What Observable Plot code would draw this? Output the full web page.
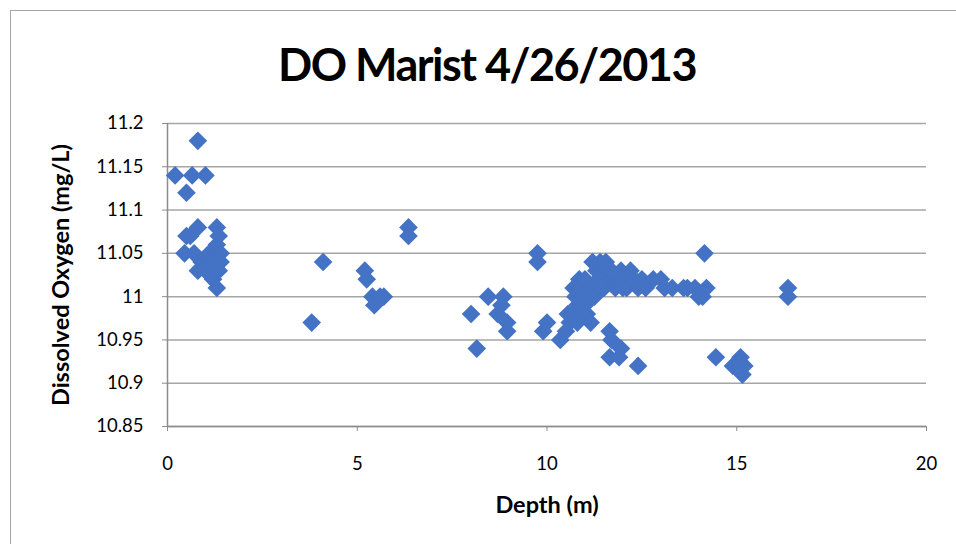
<!DOCTYPE html>
<html>
<head>
<meta charset="utf-8">
<script src="https://cdn.jsdelivr.net/npm/d3@7"></script>
<script src="https://cdn.jsdelivr.net/npm/@observablehq/plot@0.6"></script>
<style>
  html, body { margin: 0; padding: 0; background: #fff; width: 956px; height: 544px; overflow: hidden; }
  #frame { position: absolute; left: 10px; top: 10px; width: 1000px; height: 600px; border-left: 1.5px solid #A6A6A6; border-top: 1.5px solid #A6A6A6; }
  #title { position: absolute; left: 0; top: 0; width: 974px; height: 100px; line-height: 128px; text-align: center; font-family: Lato, "Open Sans", sans-serif; font-weight: 700; font-size: 45px; letter-spacing: -1.5px; color: #000; }
  #chart { position: absolute; left: 0; top: 100px; }
</style>
</head>
<body>
<div id="frame"></div>
<div id="title">DO Marist 4/26/2013</div>
<div id="chart"></div>
<script>
const title = "DO Marist 4/26/2013";
const xLabel = "Depth (m)";
const yLabel = "Dissolved Oxygen (mg/L)";
const xTicks = [0, 5, 10, 15, 20];
const yTicks = [10.85, 10.9, 10.95, 11, 11.05, 11.1, 11.15, 11.2];
const yTickLabels = ["10.85", "10.9", "10.95", "11", "11.05", "11.1", "11.15", "11.2"];

const depth = [
  0.2, 0.8, 0.5, 0.65, 1.0,
  0.5, 0.6, 0.8, 0.45, 0.7, 0.9, 0.8, 1.0, 1.1, 1.2, 1.2, 1.3, 1.3, 1.35, 1.3, 1.3, 1.4, 1.35, 1.4, 1.2, 1.0,
  3.8, 4.1, 5.2, 5.25, 5.4, 5.45, 5.6, 5.7, 6.35, 6.35,
  8.0, 8.15, 8.45, 8.85, 8.8, 8.7, 8.95, 8.95, 9.75, 9.75,
  9.9, 10.0, 10.35, 10.5, 10.6, 10.55, 10.7, 10.8, 10.75, 10.7, 10.85, 10.9, 10.95, 11.0, 11.05, 11.15, 10.8, 10.9, 11.0, 11.1, 11.2, 11.25,
  11.2, 11.3, 11.4, 11.45, 11.5, 11.55, 11.6, 11.7, 11.8, 11.9, 11.95, 12.0, 12.1, 12.2, 12.3, 12.4, 12.5, 12.6, 12.8, 13.0, 13.1, 13.3, 13.6, 13.7, 13.9, 14.0, 14.1, 14.2, 14.15,
  11.5, 11.7, 12.0, 11.35, 11.45,
  11.65, 11.7, 11.95, 11.65, 11.9, 12.4,
  16.35, 16.35, 14.45, 15.1, 14.9, 15.2, 15.15
];
const oxygen = [
  11.14, 11.18, 11.12, 11.14, 11.14,
  11.07, 11.07, 11.08, 11.05, 11.05, 11.04, 11.03, 11.04, 11.05, 11.03, 11.02, 11.01, 11.08, 11.07, 11.06, 11.05, 11.04, 11.03, 11.05, 11.04, 11.03,
  10.97, 11.04, 11.03, 11.02, 11.0, 10.99, 11.0, 11.0, 11.08, 11.07,
  10.98, 10.94, 11.0, 11.0, 10.99, 10.98, 10.97, 10.96, 11.05, 11.04,
  10.96, 10.97, 10.95, 10.96, 10.97, 10.98, 10.98, 10.99, 11.0, 11.01, 11.02, 11.01, 11.0, 10.99, 10.98, 10.97, 10.97, 10.98, 11.02, 11.0, 11.01, 11.0,
  11.04, 11.03, 11.04, 11.03, 11.02, 11.04, 11.03, 11.02, 11.01, 11.02, 11.03, 11.02, 11.01, 11.03, 11.02, 11.01, 11.02, 11.01, 11.02, 11.02, 11.01, 11.01, 11.01, 11.01, 11.01, 11.0, 11.0, 11.01, 11.05,
  11.01, 11.03, 11.01, 11.02, 11.01,
  10.96, 10.95, 10.94, 10.93, 10.93, 10.92,
  11.01, 11.0, 10.93, 10.93, 10.92, 10.92, 10.91
];
const points = depth.map((d, i) => ({depth: d, oxygen: oxygen[i]}));

const font = 'Lato, "Open Sans", sans-serif';
const chart = Plot.plot({
  width: 956,
  height: 444,
  marginTop: 23,
  marginBottom: 118,
  marginLeft: 167,
  marginRight: 30,
  style: {fontFamily: font, fontSize: "18.5px", color: "#000", background: "transparent", overflow: "visible"},
  x: {domain: [0, 20]},
  y: {domain: [10.85, 11.2]},
  marks: [
    Plot.gridY(yTicks, {stroke: "#A6A6A6", strokeOpacity: 1, strokeWidth: 1.5}),
    Plot.axisY(yTicks, {tickSize: 5, tickPadding: 19, tickFormat: (d, i) => yTickLabels[i], label: null, stroke: "#8C8C8C", fill: "#000", fontSize: 18.5}),
    Plot.axisX(xTicks, {tickSize: 5, tickPadding: 25, tickFormat: d => String(d), label: null, stroke: "#8C8C8C", fill: "#000", fontSize: 18.5}),
    Plot.ruleX([0], {stroke: "#8C8C8C", strokeWidth: 1.5}),
    Plot.ruleY([10.85], {stroke: "#8C8C8C", strokeWidth: 1.5}),
    Plot.dot(points, {x: "depth", y: "oxygen", symbol: "diamond2", r: 8.4, fill: "#4472C4", stroke: null}),
    Plot.text([yLabel], {frameAnchor: "left", textAnchor: "middle", dx: -106, rotate: -90, fontWeight: "bold", fontSize: 23.5, fill: "#000"}),
    Plot.text([xLabel], {frameAnchor: "bottom", dy: 86, fontWeight: "bold", fontSize: 23.5, fill: "#000"})
  ]
});
document.getElementById("chart").appendChild(chart);
</script>
</body>
</html>
